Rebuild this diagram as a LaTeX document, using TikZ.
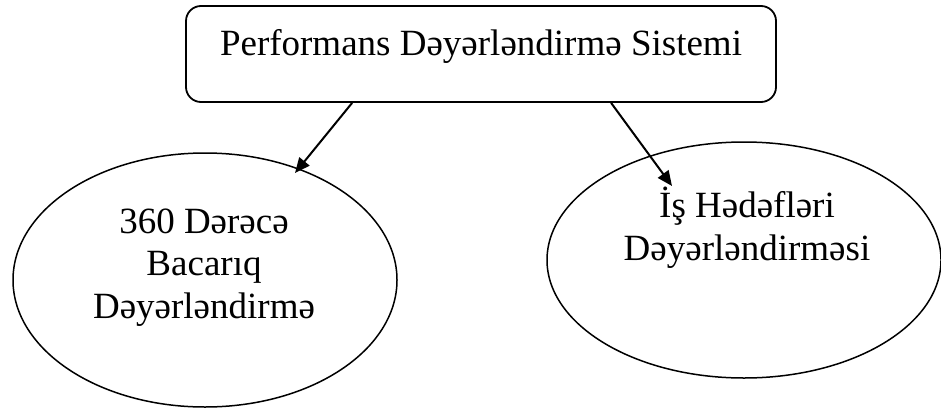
\documentclass[tikz,border=0pt]{standalone}
\usepackage{fontspec}
\setmainfont{Liberation Serif}
\usetikzlibrary{shapes.geometric,arrows.meta}
\begin{document}
\begin{tikzpicture}[x=1pt,y=-1pt,
  box/.style={draw, line width=1.8pt, rounded corners=15pt, minimum width=590pt, minimum height=96pt, inner sep=0pt},
  oval/.style={draw, ellipse, line width=1.5pt, inner sep=0pt},
  lbl/.style={font=\fontsize{37}{42.5}\selectfont, align=center, inner sep=0pt, anchor=base},
  conn/.style={line width=2pt, -{Triangle[length=15pt,width=13pt]}}]
\path[use as bounding box] (0,0) rectangle (941,407);
\node[box] (top) at (481,54) {};
\node[lbl] (toptext) at (481,55) {Performans Dəyərləndirmə Sistemi};
\node[oval, minimum width=384pt, minimum height=254pt] (L) at (205,280) {};
\node[lbl] (Ltext) at (204,318) {360 Dərəcə\\Bacarıq\\Dəyərləndirmə};
\node[oval, minimum width=394pt, minimum height=236pt] (R) at (744,260) {};
\node[lbl] (Rtext) at (747,260) {İş Hədəfləri\\Dəyərləndirməsi};
\coordinate (t1) at (295,173);
\coordinate (t2) at (672,186);
\draw[conn] ([xshift=167pt]top.south west) -- (t1);
\draw[conn] ([xshift=426pt]top.south west) -- (t2);
\end{tikzpicture}
\end{document}
